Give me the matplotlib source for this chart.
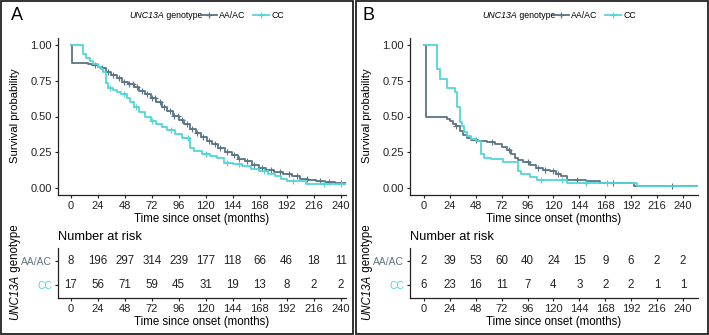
import matplotlib
matplotlib.use("Agg")
import matplotlib.pyplot as plt
import numpy as np
from matplotlib.lines import Line2D
from matplotlib.patches import Rectangle

plt.rcParams['font.family'] = ['Liberation Sans', 'DejaVu Sans']

groups = ["AA/AC", "CC"]
colors = {"AA/AC": "#5B7585", "CC": "#52D5D8"}
risk_times = [0, 24, 48, 72, 96, 120, 144, 168, 192, 216, 240]

# ---- panel A: Kaplan-Meier steps (time in months, survival) ----
a_aa_t = [0, 1, 15, 19, 24, 27, 31, 36, 41, 46, 51, 56, 61, 66, 71, 76, 81, 86, 91, 96,
          101, 106, 111, 116, 121, 126, 131, 137, 143, 149, 155, 161, 167, 174, 181, 189,
          197, 204, 211, 218, 226, 235, 245]
a_aa_s = [1.0, 0.875, 0.868, 0.86, 0.85, 0.837, 0.815, 0.79, 0.77, 0.745, 0.725, 0.705,
          0.68, 0.655, 0.63, 0.60, 0.57, 0.54, 0.505, 0.475, 0.445, 0.415, 0.385, 0.355,
          0.33, 0.305, 0.28, 0.25, 0.228, 0.205, 0.185, 0.163, 0.138, 0.122, 0.108, 0.095,
          0.08, 0.065, 0.052, 0.046, 0.042, 0.035, 0.035]
a_cc_t = [0, 11, 14, 17, 20, 24, 27, 29, 31, 33, 38, 41, 45, 50, 53, 56, 61, 66, 71, 76,
          81, 86, 93, 99, 106, 110, 117, 124, 130, 136, 144, 152, 160, 167, 175, 182, 187,
          192, 209, 245]
a_cc_s = [1.0, 0.94, 0.91, 0.89, 0.87, 0.85, 0.83, 0.81, 0.735, 0.70, 0.685, 0.675, 0.655,
          0.63, 0.60, 0.57, 0.53, 0.50, 0.465, 0.445, 0.425, 0.405, 0.38, 0.35, 0.28, 0.256,
          0.24, 0.225, 0.21, 0.175, 0.165, 0.15, 0.13, 0.117, 0.10, 0.082, 0.065, 0.05,
          0.03, 0.03]
a_aa_cens = [22, 28, 33, 38, 43, 47, 52, 55, 59, 63, 68, 72, 75, 79, 83, 88, 92, 95, 99,
             103, 108, 112, 118, 123, 128, 133, 139, 145, 150, 157, 163, 170, 178, 186,
             194, 201, 210, 222, 230, 240]
a_cc_cens = [35, 47, 58, 72, 89, 104, 120, 139, 150, 172, 198, 225, 240]
a_risk_aa = [8, 196, 297, 314, 239, 177, 118, 66, 46, 18, 11]
a_risk_cc = [17, 56, 71, 59, 45, 31, 19, 13, 8, 2, 2]

# ---- panel B ----
b_aa_t = [0, 1.5, 21, 24, 27, 30, 33, 36, 40, 44, 50, 58, 66, 72, 77, 81, 84, 87, 92, 98,
          104, 110, 117, 122, 127, 133, 150, 163, 195, 254]
b_aa_s = [1.0, 0.5, 0.48, 0.466, 0.445, 0.43, 0.40, 0.37, 0.35, 0.337, 0.33, 0.318, 0.305,
          0.285, 0.267, 0.24, 0.21, 0.197, 0.18, 0.16, 0.14, 0.125, 0.115, 0.10, 0.08,
          0.055, 0.045, 0.035, 0.01, 0.01]
b_cc_t = [0, 12, 15, 21, 29, 31, 33, 35, 37, 40, 44, 48, 53, 56, 62, 73, 87, 90, 98, 105,
          133, 197, 254]
b_cc_s = [1.0, 0.83, 0.76, 0.70, 0.67, 0.57, 0.46, 0.43, 0.39, 0.36, 0.34, 0.33, 0.235,
          0.21, 0.20, 0.18, 0.12, 0.10, 0.075, 0.056, 0.035, 0.012, 0.012]
b_aa_cens = [30, 48, 63, 79, 96, 106, 112, 120, 124, 142, 175, 230]
b_cc_cens = [108, 128, 150, 170]
b_risk_aa = [2, 39, 53, 60, 40, 24, 15, 9, 6, 2, 2]
b_risk_cc = [6, 23, 16, 11, 7, 4, 3, 2, 2, 1, 1]

W, H = 709, 335
fig = plt.figure(figsize=(W / 100, H / 100), dpi=100)


def fx(px):
    return px / W


def fy(py):
    return 1 - py / H


def style(ax):
    for s in ["top", "right"]:
        ax.spines[s].set_visible(False)
    for s in ["left", "bottom"]:
        ax.spines[s].set_linewidth(0.9)
        ax.spines[s].set_color("#222222")
    ax.tick_params(length=2.5, width=0.8, labelsize=8, colors="#222222", pad=2)


def surv_at(t, s, x):
    i = np.searchsorted(t, x, side="right") - 1
    return np.asarray(s)[i]


def panel(x0, x1, xlim, label, curves, risk):
    ax = fig.add_axes([fx(x0), fy(195), fx(x1 - x0), (195 - 38) / H])
    for g, (t, s, c) in zip(groups, curves):
        ax.step(t, s, where="post", color=colors[g], lw=1.3)
        ax.plot(c, surv_at(t, s, c), ls="none", marker="+", ms=4, mew=0.8, color=colors[g])
    ax.set_xlim(*xlim)
    ax.set_ylim(-0.05, 1.05)
    ax.set_xticks(risk_times)
    ax.set_yticks([0, 0.25, 0.5, 0.75, 1.0])
    ax.set_yticklabels(["0.00", "0.25", "0.50", "0.75", "1.00"])
    ax.set_xlabel("Time since onset (months)", fontsize=8.3, labelpad=1)
    style(ax)
    fig.text(fx(x0 - 43), fy(116), "Survival probability", rotation=90, fontsize=8.1,
             ha="center", va="center")

    tb = fig.add_axes([fx(x0), fy(298), fx(x1 - x0), 50 / H])
    rows = {"AA/AC": 2, "CC": 1}
    for g, vals in zip(groups, risk):
        for t, v in zip(risk_times, vals):
            tb.text(t, rows[g], str(v), ha="center", va="center", fontsize=8.3,
                    color="#222222")
    tb.set_xlim(*xlim)
    tb.set_ylim(0.45, 2.55)
    tb.set_xticks(risk_times)
    tb.set_yticks([2, 1])
    tb.set_yticklabels(groups)
    tb.set_xlabel("Time since onset (months)", fontsize=8.3, labelpad=1)
    style(tb)
    for lab, g in zip(tb.get_yticklabels(), groups):
        lab.set_color(colors[g])
        lab.set_fontsize(7.4)
    tb.set_title("Number at risk", fontsize=9.3, loc="left", pad=6)
    fig.text(fx(x0 - 43), fy(275), "UNC13A", rotation=90, fontsize=8.3,
             style="italic", ha="center", va="top")
    fig.text(fx(x0 - 43), fy(275), " genotype", rotation=90, fontsize=8.3,
             ha="center", va="bottom")

    fig.text(fx(x0 - 47), fy(16), label, fontsize=13, ha="left", va="center")
    return ax


axA = panel(58, 346, (-11.3, 244.7), "A",
            [(a_aa_t, a_aa_s, a_aa_cens), (a_cc_t, a_cc_s, a_cc_cens)],
            [a_risk_aa, a_risk_cc])
axB = panel(410, 698, (-13, 254), "B",
            [(b_aa_t, b_aa_s, b_aa_cens), (b_cc_t, b_cc_s, b_cc_cens)],
            [b_risk_aa, b_risk_cc])

handles = [Line2D([], [], color=colors[g], lw=1.3, marker="+", ms=5, mew=0.9) for g in groups]
for tx, lx in [(129, 201), (482, 553)]:
    t1 = fig.text(fx(tx), fy(16), "UNC13A", fontsize=6.3, style="italic", ha="left",
                  va="center")
    fig.canvas.draw()
    bb = t1.get_window_extent()
    fig.text(bb.x1 / W, fy(16), " genotype", fontsize=6.3, ha="left", va="center")
    fig.legend(handles, groups, ncol=2, frameon=False, fontsize=6.3, loc="center left",
               bbox_to_anchor=(fx(lx), fy(16)), handlelength=1.8, handletextpad=0.3,
               columnspacing=0.8, borderaxespad=0, borderpad=0)

# panel borders
for bx0, bx1 in [(1, 353), (356, 708)]:
    fig.patches.append(Rectangle((fx(bx0), fy(334)), fx(bx1 - bx0), 333 / H,
                                 transform=fig.transFigure, fill=False,
                                 lw=1.3, ec="#222222"))

fig.savefig("out.png", dpi=100)
